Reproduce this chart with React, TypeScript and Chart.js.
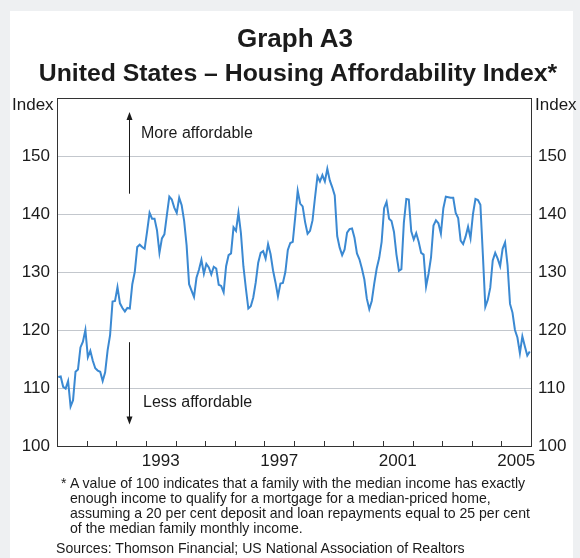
import React, { useEffect, useRef } from "react";
import { Chart, registerables } from "chart.js";

Chart.register(...registerables);

// Monthly index values, Jan 1990 – Dec 2005
const v1990 = [111.9, 112.0, 110.2, 109.9, 111.2, 106.8, 107.9, 112.8, 113.2, 117.0, 118.0, 120.0];
const v1991 = [115.3, 116.4, 114.7, 113.4, 113.0, 112.8, 111.2, 112.7, 116.5, 119.1, 124.9, 125.0];
const v1992 = [127.4, 124.6, 123.8, 123.2, 123.8, 123.7, 127.9, 130.0, 134.3, 134.7, 134.3, 134.0];
const v1993 = [137.0, 140.2, 139.2, 139.2, 137.2, 133.3, 135.8, 136.5, 139.8, 143.0, 142.5, 141.1];
const v1994 = [140.2, 142.8, 141.5, 138.8, 134.6, 127.9, 126.8, 125.7, 129.0, 130.4, 132.1, 129.7];
const v1995 = [131.4, 130.8, 129.6, 130.9, 130.6, 127.8, 127.6, 126.5, 131.0, 132.9, 133.2, 137.7];
const v1996 = [137.1, 140.2, 136.7, 131.0, 127.2, 123.7, 124.1, 125.6, 128.2, 131.6, 133.3, 133.6];
const v1997 = [132.3, 134.8, 133.1, 130.3, 128.2, 125.8, 128.0, 128.1, 130.0, 133.8, 135.0, 135.2];
const v1998 = [139.5, 144.0, 141.8, 141.3, 138.6, 136.6, 137.1, 138.9, 142.8, 146.5, 145.6, 146.7];
const v1999 = [145.6, 147.8, 145.8, 144.6, 143.2, 136.2, 134.2, 132.9, 133.9, 136.8, 137.4, 137.5];
const v2000 = [135.9, 133.2, 132.2, 130.6, 128.7, 125.4, 123.6, 125.0, 128.0, 130.6, 132.4, 135.2];
const v2001 = [141.0, 142.1, 139.2, 138.8, 136.9, 133.0, 130.2, 130.5, 138.5, 142.6, 142.5, 137.0];
const v2002 = [135.6, 136.7, 135.2, 133.3, 133.0, 127.5, 129.7, 132.5, 138.0, 138.9, 138.4, 136.6];
const v2003 = [141.0, 143.0, 142.9, 142.8, 142.8, 140.2, 139.3, 135.4, 134.8, 136.1, 137.8, 135.8];
const v2004 = [140.0, 142.6, 142.4, 141.6, 133.0, 124.0, 125.2, 127.3, 132.0, 133.3, 132.3, 131.0];
const v2005 = [134.0, 135.1, 131.2, 124.5, 123.0, 120.0, 118.7, 116.0, 118.9, 117.2, 115.6, 116.3];

const START_YEAR = 1990;
const END_YEAR = 2006;
const yearLabels = [1993, 1997, 2001, 2005];
const yMin = 100;
const yMax = 160;
const yStep = 10;
// annotation arrows: [month position, from value, to value]
const upArrow = [29, 143.5, 157.6];
const downArrow = [29, 117.9, 103.7];

const allValues = [
  ...v1990, ...v1991, ...v1992, ...v1993, ...v1994, ...v1995, ...v1996, ...v1997,
  ...v1998, ...v1999, ...v2000, ...v2001, ...v2002, ...v2003, ...v2004, ...v2005,
];

const FONT = '"Liberation Sans", Arial, Helvetica, sans-serif';
const AXIS = "#333333";
const GRID = "#c3c7cd";
const TEXT = "#1b1b1b";
const LINE = "#3b89d2";

const decorPlugin = {
  id: "decor",
  afterDraw(chart: any) {
    const { ctx, chartArea: a, scales } = chart;
    const x = scales.x;
    const y = scales.y;
    ctx.save();
    ctx.strokeStyle = AXIS;
    ctx.lineWidth = 1;
    // top frame line
    ctx.beginPath();
    ctx.moveTo(a.left, Math.round(a.top) + 0.5);
    ctx.lineTo(a.right, Math.round(a.top) + 0.5);
    ctx.stroke();
    // year tick marks (inward)
    for (let yr = START_YEAR + 1; yr < END_YEAR; yr++) {
      const px = Math.round(x.getPixelForValue((yr - START_YEAR) * 12)) + 0.5;
      ctx.beginPath();
      ctx.moveTo(px, a.bottom);
      ctx.lineTo(px, a.bottom - 5);
      ctx.stroke();
    }
    // arrows
    const drawArrow = (arr: number[]) => {
      const px = Math.round(x.getPixelForValue(arr[0])) + 0.5;
      const y0 = y.getPixelForValue(arr[1]);
      const y1 = y.getPixelForValue(arr[2]);
      const dir = y1 < y0 ? -1 : 1;
      ctx.strokeStyle = "#1a1a1a";
      ctx.fillStyle = "#1a1a1a";
      ctx.beginPath();
      ctx.moveTo(px, y0);
      ctx.lineTo(px, y1 - dir * 6);
      ctx.stroke();
      ctx.beginPath();
      ctx.moveTo(px, y1);
      ctx.lineTo(px - 3, y1 - dir * 8);
      ctx.lineTo(px + 3, y1 - dir * 8);
      ctx.closePath();
      ctx.fill();
    };
    drawArrow(upArrow);
    drawArrow(downArrow);
    ctx.restore();
  },
};

export default function App() {
  const ref = useRef<HTMLCanvasElement | null>(null);

  useEffect(() => {
    if (!ref.current) return;
    Chart.defaults.font.family = FONT;
    const yTickCb = (v: any) => (v === yMax ? "" : String(v));
    const chart = new Chart(ref.current, {
      type: "line",
      data: {
        datasets: [
          {
            data: allValues.map((v, i) => ({ x: i + 0.5, y: v })),
            borderColor: LINE,
            borderWidth: 2,
            pointRadius: 0,
            tension: 0,
            fill: false,
          },
        ],
      },
      options: {
        responsive: false,
        animation: false,
        events: [],
        layout: { padding: { top: 98, left: 0, right: 0, bottom: 0 } },
        plugins: {
          legend: { display: false },
          tooltip: { enabled: false },
          title: { display: false },
        },
        scales: {
          x: {
            type: "linear",
            min: 0,
            max: (END_YEAR - START_YEAR) * 12,
            grid: { display: false, drawTicks: false },
            border: { display: true, color: AXIS, width: 1 },
            afterBuildTicks: (s: any) => {
              s.ticks = yearLabels.map((yr) => ({ value: (yr - START_YEAR) * 12 + 6 }));
            },
            afterFit: (s: any) => {
              s.height = 34;
            },
            ticks: {
              autoSkip: false,
              maxRotation: 0,
              minRotation: 0,
              padding: 5,
              color: TEXT,
              font: { size: 17, family: FONT },
              callback: (v: any) => String(START_YEAR + Math.floor(Number(v) / 12)),
            },
          },
          y: {
            position: "left",
            min: yMin,
            max: yMax,
            afterFit: (s: any) => {
              s.width = 57;
            },
            ticks: {
              stepSize: yStep,
              padding: 7,
              color: TEXT,
              font: { size: 17, family: FONT },
              callback: yTickCb,
            },
            grid: {
              drawTicks: false,
              lineWidth: 1,
              color: (c: any) =>
                c.tick && (c.tick.value === yMin || c.tick.value === yMax) ? "rgba(0,0,0,0)" : GRID,
            },
            border: { display: true, color: AXIS, width: 1 },
          },
          y1: {
            position: "right",
            min: yMin,
            max: yMax,
            afterFit: (s: any) => {
              s.width = 49;
            },
            ticks: {
              stepSize: yStep,
              padding: 7,
              color: TEXT,
              font: { size: 17, family: FONT },
              callback: yTickCb,
            },
            grid: { display: false, drawTicks: false },
            border: { display: true, color: AXIS, width: 1 },
          },
        },
      },
      plugins: [decorPlugin],
    } as any);
    return () => chart.destroy();
  }, []);

  const abs = (extra: React.CSSProperties): React.CSSProperties => ({
    position: "absolute",
    fontFamily: FONT,
    color: TEXT,
    whiteSpace: "nowrap",
    margin: 0,
    ...extra,
  });

  const footLines = [
    "A value of 100 indicates that a family with the median income has exactly",
    "enough income to qualify for a mortgage for a median-priced home,",
    "assuming a 20 per cent deposit and loan repayments equal to 25 per cent",
    "of the median family monthly income.",
  ];

  return (
    <div
      style={{
        position: "fixed",
        left: 0,
        top: 0,
        width: 580,
        height: 558,
        background: "#eef0f2",
        overflow: "hidden",
      }}
    >
      <div style={{ position: "absolute", left: 10, top: 11, width: 563, height: 560, background: "#ffffff" }} />
      <canvas
        ref={ref}
        width={580}
        height={480}
        style={{ position: "absolute", left: 0, top: 0, width: 580, height: 480 }}
      />
      <div
        style={abs({
          left: 295,
          top: 25,
          transform: "translateX(-50%)",
          fontSize: 26,
          lineHeight: "26px",
          fontWeight: "bold",
        })}
      >
        Graph A3
      </div>
      <div
        style={abs({
          left: 298,
          top: 60,
          transform: "translateX(-50%)",
          fontSize: 24.8,
          lineHeight: "25px",
          fontWeight: "bold",
        })}
      >
        United States – Housing Affordability Index*
      </div>
      <div style={abs({ left: 12, top: 96, fontSize: 17, lineHeight: "17px" })}>Index</div>
      <div style={abs({ left: 535, top: 96, fontSize: 17, lineHeight: "17px" })}>Index</div>
      <div style={abs({ left: 141, top: 125, fontSize: 16, lineHeight: "16px" })}>More affordable</div>
      <div style={abs({ left: 143, top: 394, fontSize: 16, lineHeight: "16px" })}>Less affordable</div>
      <div style={abs({ left: 61, top: 476, fontSize: 14, lineHeight: "15px" })}>*</div>
      {footLines.map((t, i) => (
        <div key={i} style={abs({ left: 70, top: 476 + i * 15, fontSize: 14.1, lineHeight: "15px" })}>
          {t}
        </div>
      ))}
      <div style={abs({ left: 56, top: 541, fontSize: 14.1, lineHeight: "15px" })}>
        Sources: Thomson Financial; US National Association of Realtors
      </div>
    </div>
  );
}
